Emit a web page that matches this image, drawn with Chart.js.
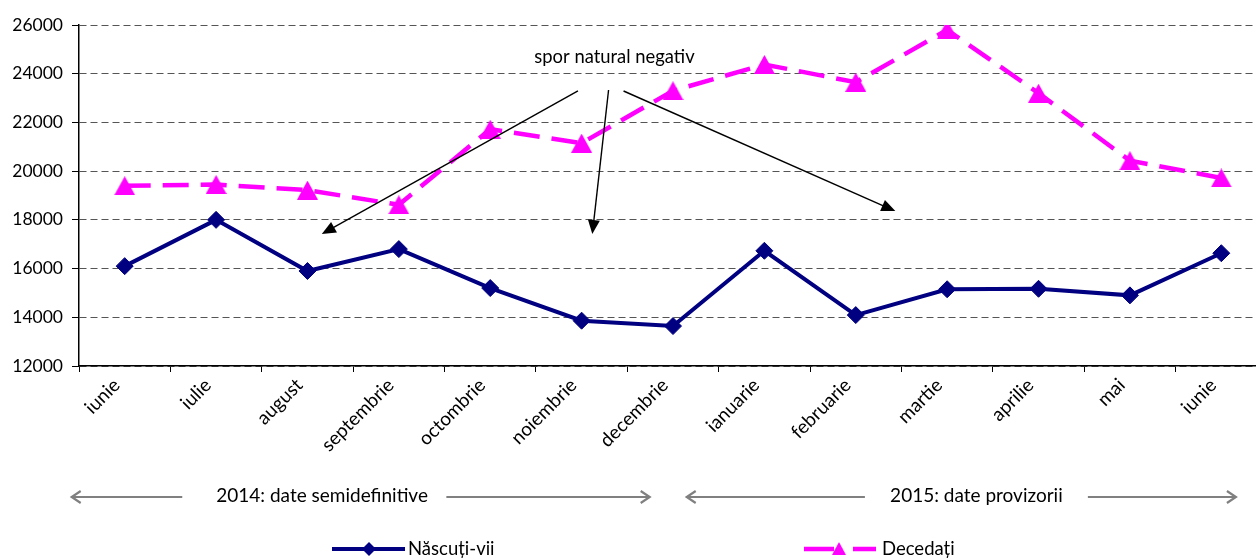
<!DOCTYPE html>
<html>
<head>
<meta charset="utf-8">
<script src="https://cdn.jsdelivr.net/npm/chart.js@4.4.1/dist/chart.umd.min.js"></script>
<style>
  html, body { margin: 0; padding: 0; background: #fff; overflow: hidden; }
</style>
</head>
<body>
<canvas id="c" width="1256" height="560"></canvas>
<script>
// ---- data ----
const categories = ['iunie','iulie','august','septembrie','octombrie','noiembrie','decembrie','ianuarie','februarie','martie','aprilie','mai','iunie'];
const nascutiVii = [16100, 18000, 15900, 16800, 15200, 13860, 13640, 16730, 14090, 15150, 15170, 14900, 16630];
const decedati   = [19400, 19450, 19220, 18620, 21720, 21150, 23300, 24380, 23650, 25800, 23200, 20430, 19720];
const seriesNames = ['Născuți-vii', 'Decedați'];
const yTicks = [12000, 14000, 16000, 18000, 20000, 22000, 24000, 26000];
const annotationText = 'spor natural negativ';
const groupLabels = ['2014: date semidefinitive', '2015: date provizorii'];

const FONT = 'Lato, "Open Sans", sans-serif';

// triangle marker with its box centred on the point
function makeTriangle(w, h, color) {
  const c = document.createElement('canvas');
  c.width = w; c.height = h;
  const g = c.getContext('2d');
  g.fillStyle = color;
  g.beginPath();
  g.moveTo(w / 2, 0); g.lineTo(w, h); g.lineTo(0, h); g.closePath();
  g.fill();
  return c;
}
const triImg = makeTriangle(21, 19, '#FF00FF');

// annotation arrows in (category index, value) coordinates
const spArrows = [
  { from: [4.96, 23300], to: [2.157, 17420] },
  { from: [5.295, 23330], to: [5.117, 17420] },
  { from: [5.459, 23290], to: [8.433, 18360] }
];
const spLabelPos = [5.36, 24690];

function arrowHead(ctx, x1, y1, x2, y2, len, half, filled) {
  const a = Math.atan2(y2 - y1, x2 - x1);
  const bx = x2 - Math.cos(a) * len, by = y2 - Math.sin(a) * len;
  const px = -Math.sin(a) * half, py = Math.cos(a) * half;
  ctx.beginPath();
  if (filled) {
    ctx.moveTo(x2, y2); ctx.lineTo(bx + px, by + py); ctx.lineTo(bx - px, by - py); ctx.closePath(); ctx.fill();
  } else {
    ctx.moveTo(bx + px, by + py); ctx.lineTo(x2, y2); ctx.lineTo(bx - px, by - py); ctx.stroke();
  }
}

// the plot area of the original runs past the right edge of the picture
const extendPlugin = {
  id: 'extend',
  afterLayout(chart) {
    const xs = chart.scales.x;
    const extra = 1267 - xs.right;
    xs.right += extra; xs.width += extra; xs.configure();
    chart.chartArea.right += extra; chart.chartArea.width += extra;
  }
};

const annotPlugin = {
  id: 'annot',
  afterDatasetsDraw(chart) {
    const ctx = chart.ctx, xs = chart.scales.x, ys = chart.scales.y;
    ctx.save();
    ctx.fillStyle = '#000';
    ctx.font = '18.4px ' + FONT;
    ctx.textAlign = 'center';
    ctx.textBaseline = 'middle';
    ctx.fillText(annotationText, xs.getPixelForValue(spLabelPos[0]), ys.getPixelForValue(spLabelPos[1]));
    ctx.strokeStyle = '#000'; ctx.fillStyle = '#000'; ctx.lineWidth = 1.4;
    spArrows.forEach(a => {
      const x1 = xs.getPixelForValue(a.from[0]), y1 = ys.getPixelForValue(a.from[1]);
      const x2 = xs.getPixelForValue(a.to[0]), y2 = ys.getPixelForValue(a.to[1]);
      const ang = Math.atan2(y2 - y1, x2 - x1);
      ctx.beginPath(); ctx.moveTo(x1, y1); ctx.lineTo(x2 - Math.cos(ang) * 10, y2 - Math.sin(ang) * 10); ctx.stroke();
      arrowHead(ctx, x1, y1, x2, y2, 14, 6, true);
    });
    ctx.restore();
  },
  afterDraw(chart) {
    const ctx = chart.ctx, xs = chart.scales.x;
    const px = v => xs.getPixelForValue(v);
    ctx.save();
    const gy = 497;
    ctx.strokeStyle = '#808080'; ctx.lineWidth = 2.2; ctx.lineCap = 'butt';
    const groups = [
      { text: groupLabels[0], tipL: -0.58, lineL: 0.63, center: 2.16, lineR: 3.52, tipR: 5.745 },
      { text: groupLabels[1], tipL: 6.15, lineL: 8.1, center: 9.32, lineR: 10.54, tipR: 12.16 }
    ];
    ctx.font = '19px ' + FONT;
    ctx.fillStyle = '#000';
    ctx.textAlign = 'center'; ctx.textBaseline = 'middle';
    groups.forEach(g => {
      ctx.beginPath(); ctx.moveTo(px(g.tipL), gy); ctx.lineTo(px(g.lineL), gy); ctx.stroke();
      arrowHead(ctx, px(g.lineL), gy, px(g.tipL), gy, 9, 6, false);
      ctx.beginPath(); ctx.moveTo(px(g.lineR), gy); ctx.lineTo(px(g.tipR), gy); ctx.stroke();
      arrowHead(ctx, px(g.lineR), gy, px(g.tipR), gy, 9, 6, false);
      ctx.fillText(g.text, px(g.center), gy - 1);
    });
    // legend
    const ly = 549;
    const ds = chart.data.datasets;
    ctx.textAlign = 'left';
    ctx.font = '18.5px ' + FONT;
    ctx.strokeStyle = ds[0].borderColor; ctx.lineWidth = ds[0].borderWidth; ctx.setLineDash([]);
    ctx.beginPath(); ctx.moveTo(332, ly); ctx.lineTo(405, ly); ctx.stroke();
    ctx.fillStyle = ds[0].borderColor;
    ctx.beginPath(); ctx.moveTo(369, ly - 7); ctx.lineTo(376, ly); ctx.lineTo(369, ly + 7); ctx.lineTo(362, ly); ctx.closePath(); ctx.fill();
    ctx.fillStyle = '#000';
    ctx.fillText(ds[0].label, 408, ly);
    ctx.strokeStyle = ds[1].borderColor; ctx.lineWidth = ds[1].borderWidth;
    ctx.beginPath(); ctx.moveTo(804, ly); ctx.lineTo(834, ly); ctx.moveTo(853, ly); ctx.lineTo(876, ly); ctx.stroke();
    ctx.drawImage(triImg, 839 - 7, ly - 7, 14, 13);
    ctx.fillStyle = '#000';
    ctx.fillText(ds[1].label, 882, ly);
    ctx.restore();
  }
};

new Chart(document.getElementById('c'), {
  type: 'line',
  data: {
    labels: categories,
    datasets: [
      {
        label: seriesNames[0],
        data: nascutiVii,
        borderColor: '#000080',
        backgroundColor: '#000080',
        borderWidth: 4,
        pointStyle: 'rectRot',
        pointRadius: 8.5,
        pointHoverRadius: 8.5,
        pointBorderWidth: 1,
        tension: 0,
        fill: false
      },
      {
        label: seriesNames[1],
        data: decedati,
        borderColor: '#FF00FF',
        backgroundColor: '#FF00FF',
        borderWidth: 4.5,
        borderDash: [26, 12],
        pointStyle: triImg,
        pointRadius: 10,
        tension: 0,
        fill: false
      }
    ]
  },
  options: {
    responsive: false,
    animation: false,
    devicePixelRatio: 1,
    layout: { padding: { top: 25, left: 0, right: 0, bottom: 0 } },
    plugins: { legend: { display: false }, tooltip: { enabled: false } },
    scales: {
      x: {
        type: 'category',
        offset: true,
        grid: { offset: true, drawOnChartArea: false, drawTicks: true, tickLength: 6, tickColor: '#000', tickWidth: 1 },
        border: { display: true, color: '#000', width: 1.5 },
        ticks: {
          color: '#000', font: { family: FONT, size: 19 },
          maxRotation: 45, minRotation: 45, autoSkip: false, padding: 2, labelOffset: -8
        },
        afterFit(s) { s.height = 194; }
      },
      y: {
        min: 12000, max: 26000,
        afterBuildTicks(s) { s.ticks = yTicks.map(v => ({ value: v })); },
        grid: {
          color: '#555', lineWidth: 1,
          drawTicks: true, tickLength: 7, tickColor: '#000', tickBorderDash: [100, 0]
        },
        border: { display: true, color: '#000', width: 1.5, dash: [7, 4] },
        ticks: { color: '#000', font: { family: FONT, size: 17.5 }, padding: 9, callback: v => String(v) },
        afterFit(s) { s.width = 79; }
      }
    }
  },
  plugins: [extendPlugin, annotPlugin]
});
</script>
</body>
</html>
